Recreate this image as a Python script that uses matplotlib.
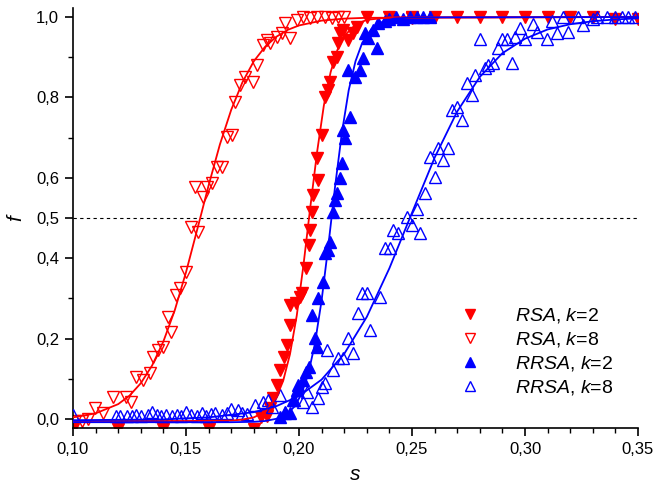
import matplotlib
matplotlib.use("Agg")
import matplotlib.pyplot as plt
from matplotlib.ticker import FixedLocator, MultipleLocator, FixedFormatter

plt.rcParams['font.family'] = ['Liberation Sans', 'DejaVu Sans']
plt.rcParams['mathtext.fontset'] = 'custom'
plt.rcParams['mathtext.rm'] = 'Liberation Sans'
plt.rcParams['mathtext.it'] = 'Liberation Sans:italic'

# ---------------- data ----------------
# RSA, k=2 (filled red down-triangles)
rsa_k2_s = [0.100, 0.120, 0.140, 0.160, 0.180, 0.183, 0.186, 0.1872, 0.1885, 0.1903,
            0.1916, 0.1934, 0.1947, 0.1960, 0.1962, 0.1987, 0.2004, 0.2013, 0.2031,
            0.2044, 0.2049, 0.2058, 0.2062, 0.2084, 0.2080, 0.2102, 0.2115, 0.2128,
            0.2137, 0.2150, 0.2168, 0.2173, 0.2181, 0.2195, 0.2217, 0.2239, 0.2257,
            0.230, 0.240, 0.250, 0.260, 0.270, 0.280, 0.290, 0.300, 0.310, 0.320,
            0.330, 0.340, 0.350]
rsa_k2_f = [-0.026, -0.026, -0.026, -0.026, -0.026, 0.005, 0.008, 0.027, 0.052, 0.085,
            0.122, 0.154, 0.184, 0.234, 0.284, 0.289, 0.303, 0.313, 0.376,
            0.433, 0.470, 0.515, 0.557, 0.595, 0.649, 0.706, 0.801, 0.818,
            0.838, 0.888, 0.900, 0.935, 0.960, 0.968, 0.943, 0.960, 0.975,
            1.0, 1.0, 1.0, 1.0, 1.0, 1.0, 1.0, 1.0, 1.0, 1.0,
            1.0, 0.995, 0.995]

# RSA, k=8 (open red down-triangles)
rsa_k8_s = [0.1010, 0.1040, 0.1066, 0.1097, 0.1133, 0.1177, 0.1235, 0.1257, 0.1279,
            0.1310, 0.1341, 0.1354, 0.1376, 0.1398, 0.1420, 0.1434, 0.1456, 0.1473,
            0.1500, 0.1522, 0.1553, 0.1540, 0.1575, 0.1593, 0.1615, 0.1637, 0.1659,
            0.1681, 0.1704, 0.1717, 0.1739, 0.1761, 0.1796, 0.1814, 0.1841, 0.1858,
            0.1872, 0.1903, 0.1925, 0.1960, 0.1938, 0.1991, 0.2018, 0.2050, 0.2080,
            0.2115, 0.2146, 0.2173, 0.2200, 0.2500]
rsa_k8_f = [-0.005, -0.005, 0.0, 0.027, 0.015, 0.055, 0.055, 0.042, 0.104,
            0.097, 0.114, 0.154, 0.172, 0.179, 0.254, 0.216, 0.308, 0.326,
            0.366, 0.478, 0.465, 0.577, 0.552, 0.577, 0.587, 0.627, 0.627,
            0.701, 0.706, 0.789, 0.831, 0.851, 0.838, 0.881, 0.930, 0.943,
            0.935, 0.950, 0.960, 0.948, 0.985, 0.993, 1.0, 0.998, 1.0,
            1.0, 0.998, 1.0, 1.0, 0.998]

# RRSA, k=2 (filled blue up-triangles)
rrsa_k2_s = [0.1916, 0.1938, 0.1960, 0.1973, 0.1991, 0.1996, 0.2018, 0.2031, 0.2044,
             0.2080, 0.2071, 0.2058, 0.2084, 0.2106, 0.2115, 0.2128, 0.2137, 0.2150,
             0.2159, 0.2168, 0.2181, 0.2190, 0.2204, 0.2195, 0.2226, 0.2248, 0.2217,
             0.2270, 0.2283, 0.2345, 0.2305, 0.2292, 0.2327, 0.2350, 0.2380, 0.2400,
             0.2430, 0.2460, 0.2490, 0.2520, 0.2550, 0.2580]
rrsa_k2_f = [0.005, 0.017, 0.015, 0.047, 0.072, 0.085, 0.097, 0.117, 0.129,
             0.179, 0.201, 0.259, 0.301, 0.341, 0.413, 0.420, 0.440, 0.515,
             0.545, 0.562, 0.600, 0.637, 0.699, 0.719, 0.751, 0.851, 0.868,
             0.868, 0.898, 0.923, 0.948, 0.960, 0.968, 0.985, 0.990, 0.995,
             1.0, 0.995, 1.0, 1.0, 1.0, 1.0]

# RRSA, k=8 (open blue up-triangles)
rrsa_k8_s = [0.100, 0.119, 0.121, 0.124, 0.126, 0.128, 0.130, 0.133, 0.135, 0.137,
             0.139, 0.141, 0.144, 0.146, 0.148, 0.150, 0.152, 0.155, 0.157, 0.159,
             0.161, 0.163, 0.166, 0.168, 0.170, 0.173, 0.175, 0.177, 0.1805, 0.1840,
             0.1863, 0.1880, 0.1916, 0.1938, 0.1980, 0.2018, 0.2035, 0.2058, 0.2084,
             0.2102, 0.2115, 0.2124, 0.2150, 0.2173, 0.2195, 0.2217, 0.2239, 0.2261,
             0.2279, 0.2301, 0.2314, 0.2358, 0.2381, 0.2403, 0.2416, 0.2438, 0.2478,
             0.2500, 0.2535, 0.2522, 0.2558, 0.2602, 0.2580, 0.2615, 0.2659, 0.2637,
             0.2677, 0.2699, 0.2721, 0.2743, 0.2765, 0.2779, 0.2823, 0.2836, 0.2858,
             0.2881, 0.2942, 0.2801, 0.2898, 0.2920, 0.2978, 0.2956, 0.3000, 0.3035,
             0.3053, 0.3097, 0.3119, 0.3142, 0.3168, 0.3190, 0.3235, 0.3257, 0.3301,
             0.3319, 0.3363, 0.3398, 0.3429, 0.3456, 0.3487]
rrsa_k8_f = [0.010, 0.008, 0.008, 0.008, 0.008, 0.010, 0.008, 0.010, 0.018, 0.010,
             0.008, 0.010, 0.008, 0.010, 0.008, 0.018, 0.010, 0.008, 0.015, 0.008,
             0.012, 0.015, 0.010, 0.015, 0.025, 0.022, 0.015, 0.012, 0.035, 0.042,
             0.047, 0.030, 0.060, 0.015, 0.047, 0.042, 0.067, 0.030, 0.052,
             0.080, 0.090, 0.172, 0.122, 0.152, 0.152, 0.201, 0.164, 0.264,
             0.313, 0.313, 0.221, 0.303, 0.425, 0.425, 0.470, 0.463, 0.502,
             0.483, 0.463, 0.522, 0.562, 0.602, 0.652, 0.674, 0.674, 0.644,
             0.769, 0.776, 0.744, 0.836, 0.806, 0.856, 0.873, 0.881, 0.886,
             0.923, 0.886, 0.945, 0.945, 0.945, 0.973, 0.950, 0.945, 0.983,
             0.963, 0.945, 0.990, 0.960, 1.0, 0.963, 1.0, 0.980, 0.995,
             1.0, 1.0, 1.0, 1.0, 1.0, 1.0]

# fitted curves
fit_rsa_k2_s = [0.10, 0.15, 0.17, 0.175, 0.18, 0.185, 0.19, 0.193, 0.196, 0.199, 0.202,
                0.205, 0.208, 0.211, 0.214, 0.217, 0.220, 0.225, 0.230, 0.240, 0.35]
fit_rsa_k2_f = [-0.005, -0.005, -0.004, -0.0015, 0.004, 0.018, 0.054, 0.095, 0.161, 0.257,
                0.384, 0.527, 0.664, 0.780, 0.863, 0.918, 0.953, 0.981, 0.993, 0.999, 1.0]

fit_rsa_k8_s = [0.10, 0.11, 0.12, 0.125, 0.13, 0.135, 0.14, 0.145, 0.15, 0.155, 0.16,
                0.165, 0.17, 0.175, 0.18, 0.185, 0.19, 0.195, 0.20, 0.21, 0.22, 0.23, 0.35]
fit_rsa_k8_f = [0.004, 0.014, 0.037, 0.058, 0.089, 0.133, 0.193, 0.270, 0.365, 0.472, 0.581,
                0.683, 0.769, 0.838, 0.890, 0.926, 0.951, 0.968, 0.979, 0.991, 0.996, 0.998, 1.0]

fit_rrsa_k2_s = [0.10, 0.17, 0.18, 0.185, 0.19, 0.195, 0.198, 0.201, 0.204, 0.207, 0.210,
                 0.213, 0.216, 0.219, 0.222, 0.225, 0.228, 0.232, 0.236, 0.242, 0.25, 0.35]
fit_rrsa_k2_f = [-0.008, -0.008, -0.007, -0.005, 0.0005, 0.014, 0.031, 0.061, 0.110, 0.186,
                 0.295, 0.432, 0.580, 0.713, 0.818, 0.890, 0.936, 0.970, 0.986, 0.996, 0.999, 1.0]

fit_rrsa_k8_s = [0.10, 0.14, 0.16, 0.18, 0.19, 0.20, 0.21, 0.22, 0.23, 0.24, 0.25, 0.26,
                 0.27, 0.28, 0.29, 0.30, 0.31, 0.32, 0.33, 0.34, 0.35]
fit_rrsa_k8_f = [-0.003, -0.001, 0.004, 0.017, 0.032, 0.057, 0.098, 0.162, 0.254, 0.375,
                 0.513, 0.650, 0.765, 0.851, 0.910, 0.946, 0.969, 0.982, 0.9895, 0.994, 0.9966]

x_ticks = [0.10, 0.15, 0.20, 0.25, 0.30, 0.35]
x_tick_labels = ['0,10', '0,15', '0,20', '0,25', '0,30', '0,35']
y_ticks = [0.0, 0.2, 0.4, 0.5, 0.6, 0.8, 1.0]
y_tick_labels = ['0,0', '0,2', '0,4', '0,5', '0,6', '0,8', '1,0']
y_minor = [0.1, 0.3, 0.7, 0.9]

RED = '#ff0000'
BLUE = '#0000ff'

# ---------------- figure ----------------
fig = plt.figure(figsize=(6.55, 4.86), dpi=100)
ax = fig.add_axes([73/655, 1-428/486, 565/655, 420/486])

ms = 8.5
ax.plot(rsa_k2_s, rsa_k2_f, linestyle='none', marker='v', ms=ms, color=RED,
        mec=RED, label=r'$\mathit{RSA}$, $\mathit{k}$=2', zorder=2)
ax.plot(rsa_k8_s, rsa_k8_f, linestyle='none', marker='v', ms=ms, mfc='none',
        mec=RED, mew=1.0, label=r'$\mathit{RSA}$, $\mathit{k}$=8', zorder=2)
ax.plot(rrsa_k2_s, rrsa_k2_f, linestyle='none', marker='^', ms=ms, color=BLUE,
        mec=BLUE, label=r'$\mathit{RRSA}$, $\mathit{k}$=2', zorder=3)
ax.plot(rrsa_k8_s, rrsa_k8_f, linestyle='none', marker='^', ms=ms, mfc='none',
        mec=BLUE, mew=1.0, label=r'$\mathit{RRSA}$, $\mathit{k}$=8', zorder=3)

lw = 1.3
ax.plot(fit_rsa_k2_s, fit_rsa_k2_f, color=RED, lw=lw, zorder=4)
ax.plot(fit_rsa_k8_s, fit_rsa_k8_f, color=RED, lw=lw, zorder=4)
ax.plot(fit_rrsa_k2_s, fit_rrsa_k2_f, color=BLUE, lw=lw, zorder=4)
ax.plot(fit_rrsa_k8_s, fit_rrsa_k8_f, color=BLUE, lw=lw, zorder=4)

ax.axhline(0.5, color='black', lw=0.8, ls=(0, (3, 3)), zorder=1)

ax.set_xlim(0.10, 0.35)
ax.set_ylim(-0.0224, 1.0224)

ax.spines['top'].set_visible(False)
ax.spines['right'].set_visible(False)
for sp in ('left', 'bottom'):
    ax.spines[sp].set_linewidth(1.2)

ax.xaxis.set_major_locator(FixedLocator(x_ticks))
ax.xaxis.set_major_formatter(FixedFormatter(x_tick_labels))
ax.xaxis.set_minor_locator(MultipleLocator(0.01))
ax.yaxis.set_major_locator(FixedLocator(y_ticks))
ax.yaxis.set_major_formatter(FixedFormatter(y_tick_labels))
ax.yaxis.set_minor_locator(FixedLocator(y_minor))

ax.tick_params(which='major', direction='out', length=6, width=1.2, labelsize=12, pad=4)
ax.tick_params(which='minor', direction='out', length=3.5, width=1.0)

ax.set_xlabel('s', fontsize=15, style='italic', labelpad=6)
ax.set_ylabel('f', fontsize=15, style='italic', labelpad=8)

leg = ax.legend(loc='upper left', bbox_to_anchor=(457/655, 1-306/486),
                bbox_transform=fig.transFigure, frameon=False, fontsize=14,
                handlelength=1.3, handletextpad=1.7, labelspacing=0.26,
                borderpad=0, borderaxespad=0, markerscale=0.85)

fig.savefig('out.png', dpi=100)
